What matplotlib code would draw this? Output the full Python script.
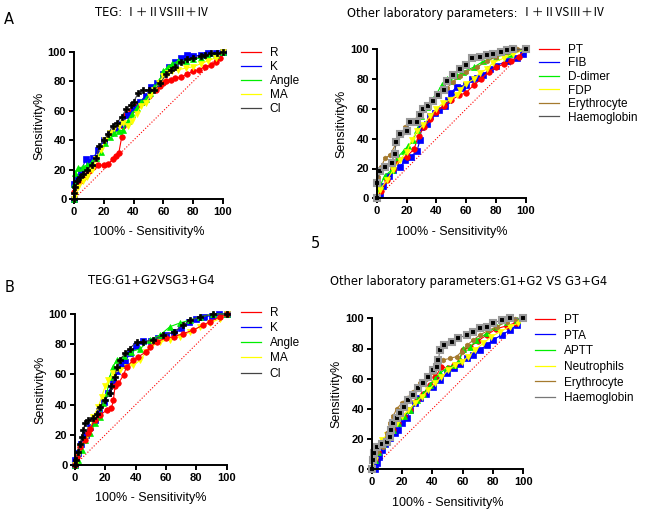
import matplotlib.pyplot as plt

plt.rcParams['font.family'] = ['Liberation Sans', 'DejaVu Sans']

W, H = 649, 516

# ---- panel A, TEG ----
a1_R_x = [0, 0, 2, 4, 6, 8, 10, 13, 16, 20, 23, 26, 28, 30, 32, 33, 35, 38, 42, 46, 50, 55, 58, 60, 62, 65, 68, 72, 76, 80, 84, 88, 92, 95, 98, 100]
a1_R_y = [0, 5, 10, 12, 14, 16, 19, 22, 23, 23, 24, 27, 29, 31, 42, 50, 57, 60, 63, 66, 70, 74, 77, 79, 80, 81, 82, 83, 85, 87, 88, 90, 91, 93, 96, 100]
a1_K_x = [0, 0, 2, 5, 8, 10, 13, 16, 20, 24, 28, 32, 36, 40, 44, 48, 52, 56, 60, 64, 68, 72, 76, 80, 85, 90, 95, 100]
a1_K_y = [0, 10, 15, 20, 27, 25, 28, 33, 40, 45, 48, 51, 57, 61, 66, 70, 76, 79, 85, 90, 93, 96, 98, 97, 98, 99, 99, 100]
a1_Angle_x = [0, 0, 1, 3, 6, 9, 12, 15, 18, 21, 24, 27, 30, 33, 36, 39, 42, 45, 48, 51, 54, 57, 60, 63, 66, 70, 75, 80, 85, 90, 95, 100]
a1_Angle_y = [0, 10, 18, 21, 22, 23, 25, 28, 32, 38, 42, 45, 46, 47, 53, 58, 62, 66, 68, 72, 76, 80, 87, 90, 92, 94, 94, 95, 96, 97, 98, 100]
a1_MA_x = [0, 1, 3, 6, 9, 12, 15, 18, 21, 24, 27, 30, 33, 36, 39, 42, 45, 48, 51, 54, 57, 60, 63, 66, 70, 75, 80, 85, 90, 95, 100]
a1_MA_y = [0, 3, 8, 12, 15, 20, 27, 33, 40, 45, 48, 50, 52, 50, 53, 58, 63, 65, 70, 74, 79, 84, 86, 87, 88, 89, 90, 92, 94, 96, 100]
a1_CI_x = [0, 0, 1, 2, 4, 6, 9, 12, 15, 17, 20, 23, 26, 29, 32, 35, 38, 40, 43, 46, 50, 54, 58, 62, 65, 68, 72, 76, 80, 85, 88, 92, 96, 100]
a1_CI_y = [0, 4, 8, 12, 15, 17, 20, 23, 28, 36, 40, 44, 50, 52, 56, 61, 64, 66, 72, 74, 74, 74, 79, 85, 88, 90, 93, 95, 96, 97, 98, 99, 99, 100]

# ---- panel A, other parameters ----
a2_PT_x = [0, 3, 7, 11, 13, 20, 25, 28, 32, 36, 40, 45, 50, 55, 60, 65, 70, 75, 80, 85, 90, 95, 100]
a2_PT_y = [0, 5, 12, 20, 25, 28, 33, 42, 48, 53, 58, 62, 66, 69, 71, 76, 80, 85, 88, 90, 92, 95, 100]
a2_FIB_x = [0, 2, 4.5, 8, 11, 15.6, 19, 23, 27, 29, 30, 33.5, 35.7, 39, 42, 46, 48, 50, 53.6, 57, 60, 63.6, 67, 71.5, 76, 80, 87, 94, 98, 100]
a2_FIB_y = [0, 3, 8, 15, 19, 21, 25.5, 28, 32, 39, 48, 50, 55, 57, 59.5, 62, 66, 71, 75, 74, 76, 80, 81, 83, 87, 89, 92, 94, 97, 100]
a2_Ddimer_x = [0, 2, 5.5, 10, 14.5, 18, 21, 24.5, 27, 30, 33.5, 37, 40, 43.5, 47, 49, 53.6, 58, 65, 71.5, 80, 89, 100]
a2_Ddimer_y = [0, 8, 15, 19, 28, 32, 35, 39, 46, 55, 61, 66, 70, 76, 80, 79, 82, 85, 88, 92, 95, 97, 100]
a2_FDP_x = [0, 2, 6.7, 11, 15.6, 20, 23.4, 27, 31, 35.7, 40, 44.6, 49, 53.6, 56, 60, 65, 69, 74, 78, 85, 91.5, 100]
a2_FDP_y = [0, 5.6, 12, 19, 26, 31, 39, 45, 49, 55, 60, 64, 66, 69.5, 73, 77, 80, 84, 87, 91, 94, 97, 100]
a2_Ery_x = [0, 1, 3, 5.6, 9, 13, 17, 19, 22, 27, 29, 33, 38, 42, 47, 51, 56, 60, 67, 74, 80, 87, 94, 100]
a2_Ery_y = [0, 14.5, 21, 27, 29, 37, 44, 48, 51, 53, 56, 61, 66, 70, 74, 78, 82, 85, 88, 92, 95, 98, 100, 100]
a2_Hb_x = [0, 0, 2, 5.5, 10, 12, 13, 15.6, 20, 22, 27, 29, 31, 34.6, 38, 41, 45, 47, 51, 56, 60, 63.6, 69, 74, 78, 83, 87, 91.5, 100]
a2_Hb_y = [0, 10, 18, 21, 24, 30, 38, 43, 45, 51, 51, 56, 60, 62, 65, 69, 73, 79, 83, 87, 89.5, 94, 95, 96, 97, 98.5, 99.5, 100, 100]

# ---- panel B, TEG ----
b1_R_x = [0, 1, 3.3, 6.6, 8.8, 10, 13, 16.5, 21, 24, 25.3, 26.4, 28.6, 32, 34, 38.5, 41.8, 47, 49.5, 54, 60, 65, 71.4, 78, 84.6, 89, 95.6, 100]
b1_R_y = [0, 5.5, 12, 16.5, 21, 24, 30, 33, 36.4, 37.5, 43, 52, 54, 59.6, 65, 69.5, 71.7, 75, 78, 81.7, 84, 85, 87, 89.4, 92.7, 95, 98, 100]
b1_K_x = [0, 0, 2, 4, 7, 10, 13, 16, 19, 22, 25, 28, 31, 33, 36, 40, 45, 50, 55, 60, 65, 70, 75, 80, 85, 90, 95, 100]
b1_K_y = [0, 3, 8, 14, 20, 25, 30, 36, 42, 48, 55, 62, 66, 68, 74, 79, 82, 82, 84, 86, 88, 91, 95, 97, 98, 99, 100, 100]
b1_Angle_x = [0, 2, 4.4, 6.6, 10, 13, 16.5, 18.7, 21, 23, 25, 27.5, 32, 37, 43, 49.5, 56, 62.6, 69, 75.8, 82.4, 91, 100]
b1_Angle_y = [0, 3, 10, 16.5, 21, 27.6, 32, 41, 47.5, 58.5, 65, 69.5, 72, 75, 77, 83, 86, 91.6, 94, 96, 98, 100, 100]
b1_MA_x = [0, 1.5, 3.3, 6.6, 10, 12, 15.4, 17.6, 19.8, 22, 25, 29.7, 34, 38.5, 43, 47, 51.6, 56, 62.6, 69, 75.8, 82.4, 89, 95.6, 100]
b1_MA_y = [0, 5.5, 12, 16.5, 23, 32, 38.6, 45, 52, 56, 60.7, 63, 65, 66, 69.5, 75, 80.6, 81.7, 82.8, 85, 88, 91.6, 94, 97, 100]
b1_CI_x = [0, 0.7, 2.2, 3.3, 4.4, 5.5, 6.6, 8.8, 12, 14.3, 16.5, 19.8, 23, 24, 26.4, 27.5, 29.7, 33, 36, 40.7, 45, 51.6, 58, 65, 71.4, 75.8, 82.4, 91, 100]
b1_CI_y = [0, 3.3, 8.8, 14, 18.8, 23, 27.6, 29.8, 31, 34, 38.6, 43, 47.5, 52, 58.5, 65, 69.5, 74, 77, 81.7, 81.7, 82.8, 86, 88, 92.7, 96, 98, 100, 100]

# ---- panel B, other parameters ----
b2_PT_x = [0, 2.2, 4.4, 7.7, 11, 14, 17.6, 21, 25.3, 29.7, 34, 38.5, 42, 46, 50, 54, 58, 60, 65, 70, 76, 82, 89, 95, 100]
b2_PT_y = [0, 6, 11.7, 17, 22.7, 26, 30.5, 35, 39, 46, 50, 56, 61, 68, 67, 69, 72, 79, 81, 85, 89, 93, 95, 97, 100]
b2_PTA_x = [0, 2, 3.3, 5, 6.6, 8.8, 12, 15.4, 17.6, 19.8, 23, 25.3, 28.6, 32, 36, 40.7, 45, 49.5, 54, 58, 62.6, 67, 71.4, 75.8, 80, 85.7, 91, 95.6, 100]
b2_PTA_y = [0, 0, 4, 8.4, 12.8, 17, 20.5, 23.8, 26, 30.5, 33.8, 39, 43.7, 47, 50, 54.7, 59, 63.6, 67, 70, 73.5, 75.7, 79, 82.3, 85.6, 89, 92, 95.6, 100]
b2_APTT_x = [0, 2.2, 4.4, 7.7, 11, 14, 17.6, 21, 25.3, 29.7, 34, 38.5, 41.8, 45, 49.5, 54, 58, 60, 65, 69, 75.8, 82.4, 89, 95.6, 100]
b2_APTT_y = [0, 6, 11.7, 17, 22.7, 26, 30.5, 35, 39, 46, 50, 56, 60, 63.6, 67, 69, 72.4, 80, 81, 85.6, 90, 94.5, 97.8, 99, 100]
b2_Neu_x = [0, 2, 4.4, 6.6, 10, 13, 16.5, 19.8, 24, 28.6, 33, 37.4, 41.8, 46, 50.5, 55, 59.3, 63.7, 68, 73.6, 79, 84.6, 91, 96.7, 100]
b2_Neu_y = [0, 6, 14, 19.4, 22.7, 26, 30.5, 35, 39, 43.7, 48, 52.5, 57, 61, 65.8, 69, 71.3, 74.6, 79, 83.4, 87.9, 91, 94.5, 96.7, 100]
b2_Ery_x = [0, 1, 3.3, 7.7, 10, 12, 14, 16.5, 19.8, 23, 27.5, 32, 36, 40.7, 44, 47, 51.6, 56, 59.3, 62.6, 67, 71.4, 77, 82.4, 89, 94.5, 100]
b2_Ery_y = [0, 6, 11.7, 15, 24, 30.5, 35, 40, 43.7, 47, 51.4, 57, 60, 64.7, 70, 72.4, 73.5, 74.6, 78, 82, 85.6, 89, 92, 94.5, 97.8, 99.3, 100]
b2_Hb_x = [0, 0.7, 1.5, 3.3, 6.6, 10, 12, 13, 14, 16.5, 18.7, 21, 24, 27.5, 30.8, 34, 37.4, 40.7, 43, 44, 45, 48, 52.7, 57, 62.6, 67, 71.4, 75.8, 80, 85.7, 91, 100]
b2_Hb_y = [0, 6, 10.6, 15, 17, 18, 21.6, 26, 30.5, 33.8, 37, 41.5, 46, 49, 53.6, 57, 61, 65.8, 68, 72.4, 79, 82, 84.5, 86.8, 89, 91, 93.4, 94.5, 96.7, 99, 100, 100]

diag = [0, 100]

RED, BLUE, GREEN, YELLOW = '#ff0000', '#0000ff', '#00ee00', '#ffff00'
BROWN, GRAY = '#a57a2e', '#9a9a9a'


def px_axes(fig, l, t, r, b):
    return fig.add_axes([l / W, 1 - b / H, (r - l) / W, (b - t) / H])


def style_axes(ax):
    ax.set_xlim(0, 100)
    ax.set_ylim(0, 100)
    ax.set_xticks(range(0, 101, 20))
    ax.set_yticks(range(0, 101, 20))
    for s in ['top', 'right']:
        ax.spines[s].set_visible(False)
    for s in ['left', 'bottom']:
        ax.spines[s].set_linewidth(1.4)
    ax.tick_params(width=1.4, length=3.5, labelsize=8, pad=2)
    for lab in ax.get_xticklabels() + ax.get_yticklabels():
        lab.set_fontweight('bold')
    ax.set_xlabel('100% - Sensitivity%', fontsize=9, labelpad=7)
    ax.set_ylabel('Sensitivity%', fontsize=9, labelpad=2)
    ax.plot(diag, diag, color=RED, ls=':', lw=0.8, zorder=1)


def curve(ax, x, y, color, marker, label, ms=4, mfc=None, mec=None, mew=0.5, lcolor=None):
    ax.plot(x, y, color=lcolor or color, lw=0.8, marker=marker, ms=ms,
            mfc=mfc or color, mec=mec or color, mew=mew, clip_on=False)
    return plt.Line2D([], [], color=lcolor or color, lw=0.9, label=label)


def legend(ax, handles, l, t, spacing):
    ax.legend(handles=handles, loc='upper left', frameon=False, fontsize=8.5,
              bbox_to_anchor=(l / W, 1 - t / H), bbox_transform=ax.figure.transFigure,
              handlelength=1.7, handletextpad=0.75, labelspacing=spacing, borderpad=0)


def title2(ax, x, y, prefix, suffix):
    # latin part in DejaVu, roman numerals in CJK font, placed right after it
    t = ax.figure.text(x / W, 1 - y / H, prefix, ha='left', va='center',
                       fontsize=8.3, family='DejaVu Sans')
    ax.annotate(suffix, xy=(1, 0.5), xycoords=t, xytext=(2, 0), textcoords='offset points',
                ha='left', va='center', fontsize=8.5,
                family=['Noto Sans CJK SC', 'DejaVu Sans'], annotation_clip=False)


fig = plt.figure(figsize=(W / 100, H / 100), dpi=100)

# A1
ax = px_axes(fig, 74, 52, 223, 199)
style_axes(ax)
hr = curve(ax, a1_R_x, a1_R_y, RED, 'o', 'R')
hk = curve(ax, a1_K_x, a1_K_y, BLUE, 's', 'K')
ha = curve(ax, a1_Angle_x, a1_Angle_y, GREEN, '^', 'Angle')
hm = curve(ax, a1_MA_x, a1_MA_y, YELLOW, 'v', 'MA')
hc = curve(ax, a1_CI_x, a1_CI_y, 'black', 'P', 'CI', lcolor='#444444')
legend(ax, [hr, hk, ha, hm, hc], 235, 41, 0.18)
title2(ax, 95, 13, 'TEG:', 'Ⅰ＋ⅡVSⅢ＋Ⅳ')

# A2
ax = px_axes(fig, 376.7, 49.3, 526, 198.3)
style_axes(ax)
hs = [curve(ax, a2_FIB_x, a2_FIB_y, BLUE, 's', 'FIB'),
      curve(ax, a2_PT_x, a2_PT_y, RED, 'o', 'PT'),
      curve(ax, a2_Ddimer_x, a2_Ddimer_y, GREEN, '^', 'D-dimer'),
      curve(ax, a2_FDP_x, a2_FDP_y, YELLOW, 'v', 'FDP'),
      curve(ax, a2_Ery_x, a2_Ery_y, BROWN, 'h', 'Erythrocyte', ms=3.5),
      curve(ax, a2_Hb_x, a2_Hb_y, GRAY, 's', 'Haemoglobin', ms=5, mfc='black', mec=GRAY, mew=1.5, lcolor='#555555')]
legend(ax, [hs[1], hs[0]] + hs[2:], 533, 38, 0.13)
title2(ax, 347, 13, 'Other laboratory parameters:', 'Ⅰ＋ⅡVSⅢ＋Ⅳ')

# B1
ax = px_axes(fig, 75, 314, 226.7, 465)
style_axes(ax)
hk = curve(ax, b1_K_x, b1_K_y, BLUE, 's', 'K')
ha = curve(ax, b1_Angle_x, b1_Angle_y, GREEN, '^', 'Angle')
hm = curve(ax, b1_MA_x, b1_MA_y, YELLOW, 'v', 'MA')
hr = curve(ax, b1_R_x, b1_R_y, RED, 'o', 'R')
hc = curve(ax, b1_CI_x, b1_CI_y, 'black', 'P', 'CI', lcolor='#444444')
legend(ax, [hr, hk, ha, hm, hc], 235, 301, 0.27)

# B2
ax = px_axes(fig, 371.7, 318.3, 523.3, 469.3)
style_axes(ax)
hs = [curve(ax, b2_PTA_x, b2_PTA_y, BLUE, 's', 'PTA'),
      curve(ax, b2_PT_x, b2_PT_y, RED, 'o', 'PT'),
      curve(ax, b2_APTT_x, b2_APTT_y, GREEN, '^', 'APTT'),
      curve(ax, b2_Neu_x, b2_Neu_y, YELLOW, 'v', 'Neutrophils'),
      curve(ax, b2_Ery_x, b2_Ery_y, BROWN, 'h', 'Erythrocyte', ms=3.5),
      curve(ax, b2_Hb_x, b2_Hb_y, GRAY, 's', 'Haemoglobin', ms=5, mfc='black', mec=GRAY, mew=1.5, lcolor='#777777')]
legend(ax, [hs[1], hs[0]] + hs[2:], 529, 308, 0.31)

# titles and panel letters
fig.text(151 / W, 1 - 281 / H, 'TEG:G1+G2VSG3+G4', ha='center', va='center', fontsize=8.3, family='DejaVu Sans')
fig.text(469 / W, 1 - 282 / H, 'Other laboratory parameters:G1+G2 VS G3+G4', ha='center', va='center', fontsize=8.3, family='DejaVu Sans')
fig.text(9 / W, 1 - 20 / H, 'A', ha='center', va='center', fontsize=10.5, family='DejaVu Sans')
fig.text(10 / W, 1 - 288 / H, 'B', ha='center', va='center', fontsize=10.5, family='DejaVu Sans')
fig.text(315 / W, 1 - 243 / H, '5', ha='center', va='center', fontsize=10.5, family='DejaVu Sans')

fig.savefig('out.png', dpi=100)
